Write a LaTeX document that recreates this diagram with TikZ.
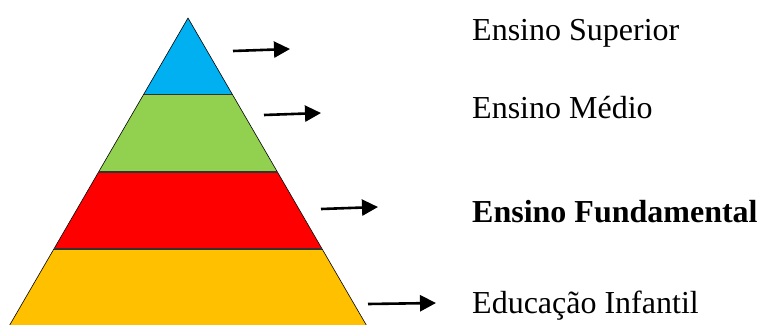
\documentclass[tikz,border=0pt]{standalone}
\usepackage{fontspec}
\setmainfont{Liberation Serif}
\usetikzlibrary{arrows.meta}
\definecolor{lvblue}{HTML}{00B0F0}
\definecolor{lvgreen}{HTML}{92D050}
\definecolor{lvred}{HTML}{FF0000}
\definecolor{lvorange}{HTML}{FFC000}
\tikzset{
  level/.style={draw=black, line width=0.6pt, line join=round},
  sep/.style={draw=black!80, line width=1.6pt},
  arr/.style={line width=2.6pt, -{Triangle[length=16pt,width=16pt]}},
  lbl/.style={anchor=base west, inner sep=0pt, font=\fontsize{32}{38}\selectfont}
}
\begin{document}
\begin{tikzpicture}[x=1pt,y=-1pt]
\useasboundingbox (0,0) rectangle (760,324);
\begin{scope}
\clip (0,0) rectangle (760,324);
% levels
\fill[lvorange] (54,249) -- (322,249) -- (368,328) -- (8,328) -- cycle;
\fill[lvred] (98.7,172) -- (277.3,172) -- (322,249) -- (54,249) -- cycle;
\fill[lvgreen] (143.6,94.5) -- (232.4,94.5) -- (277.3,172) -- (98.7,172) -- cycle;
\fill[lvblue] (188,18) -- (232.4,94.5) -- (143.6,94.5) -- cycle;
\draw[level] (8,328) -- (188,18) -- (368,328);
\draw[sep] (143.6,94.5) -- (232.4,94.5);
\draw[sep] (98.7,172) -- (277.3,172);
\draw[sep] (54,249) -- (322,249);
\end{scope}
% labels
\node[lbl] (sup) at (472,40) {Ensino Superior};
\node[lbl] (med) at (472,118) {Ensino Médio};
\node[lbl] (fun) at (472,222) {\bfseries Ensino Fundamental};
\node[lbl] (inf) at (472,313) {Educação Infantil};
% arrows
\coordinate (a1s) at (233,51); \coordinate (a1e) at (290,49);
\coordinate (a2s) at (264,115); \coordinate (a2e) at (321,113);
\coordinate (a3s) at (321,209); \coordinate (a3e) at (378,207);
\coordinate (a4s) at (368,304); \coordinate (a4e) at (436,303);
\draw[arr] (a1s) -- (a1e);
\draw[arr] (a2s) -- (a2e);
\draw[arr] (a3s) -- (a3e);
\draw[arr] (a4s) -- (a4e);
\end{tikzpicture}
\end{document}
